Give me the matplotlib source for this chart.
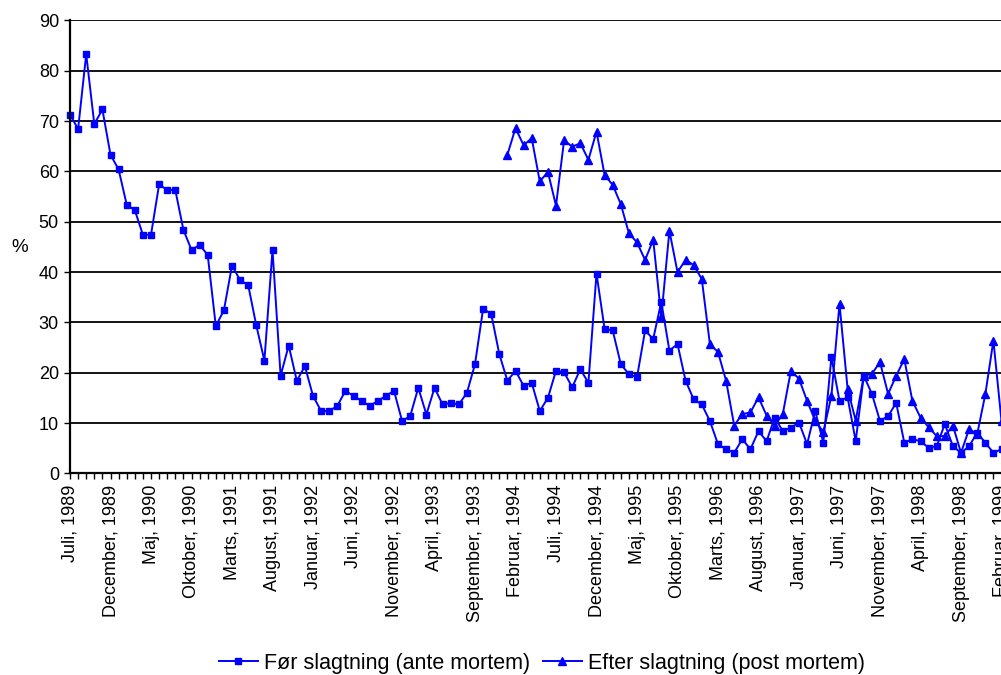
import matplotlib
matplotlib.use("Agg")
import matplotlib.pyplot as plt
import numpy as np

plt.rcParams['font.family'] = ['Liberation Sans', 'DejaVu Sans']

# maanedlige vaerdier, juli 1989 -> februar 1999
ante = [71.3, 68.4, 83.3, 69.4, 72.3, 63.3, 60.4, 53.4, 52.3, 47.4,
        47.4, 57.4, 56.3, 56.3, 48.4, 44.4, 45.4, 43.4, 29.3, 32.4,
        41.3, 38.4, 37.4, 29.4, 22.4, 44.4, 19.4, 25.4, 18.4, 21.3,
        15.4, 12.4, 12.4, 13.4, 16.4, 15.4, 14.4, 13.4, 14.4, 15.4,
        16.4, 10.4, 11.4, 17.0, 11.7, 17.0, 13.7, 14.0, 13.7, 16.0,
        21.7, 32.7, 31.7, 23.7, 18.4, 20.4, 17.4, 18.0, 12.4, 15.0,
        20.4, 20.1, 17.1, 20.7, 18.0, 39.7, 28.7, 28.4, 21.7, 19.7,
        19.1, 28.4, 26.7, 34.1, 24.4, 25.7, 18.4, 14.7, 13.7, 10.4,
        5.8, 4.8, 4.1, 6.8, 4.8, 8.4, 6.4, 11.1, 8.4, 9.1,
        10.1, 5.8, 12.4, 6.1, 23.1, 14.4, 15.1, 6.4, 19.4, 15.8,
        10.4, 11.4, 14.0, 6.1, 6.8, 6.4, 5.1, 5.4, 9.8, 5.4,
        4.1, 5.4, 8.1, 6.1, 4.1, 4.8]

# post mortem starter i januar 1994 (indeks 54)
post_start = 54
post = [63.3, 68.6, 65.2, 66.6, 58.0, 59.9, 53.2, 66.2, 64.9, 65.6,
        62.3, 67.9, 59.3, 57.3, 53.5, 47.7, 45.9, 42.4, 46.4, 31.1,
        48.2, 40.0, 42.4, 41.4, 38.6, 25.7, 24.1, 18.4, 9.5, 11.8,
        12.1, 15.1, 11.5, 9.5, 11.8, 20.4, 18.8, 14.4, 10.5, 8.2,
        15.4, 33.7, 16.8, 10.5, 19.4, 19.8, 22.1, 15.8, 19.4, 22.7,
        14.4, 11.1, 9.2, 7.4, 7.4, 9.5, 4.1, 8.8, 7.8, 15.7,
        26.4, 10.4]

tick_labels = ["Juli, 1989", "December, 1989", "Maj, 1990", "Oktober, 1990",
               "Marts, 1991", "August, 1991", "Januar, 1992", "Juni, 1992",
               "November, 1992", "April, 1993", "September, 1993", "Februar, 1994",
               "Juli, 1994", "December, 1994", "Maj, 1995", "Oktober, 1995",
               "Marts, 1996", "August, 1996", "Januar, 1997", "Juni, 1997",
               "November, 1997", "April, 1998", "September, 1998", "Februar, 1999"]

x_ante = np.arange(len(ante))
x_post = np.arange(post_start, post_start + len(post))

fig = plt.figure(figsize=(10.01, 6.75), dpi=100)
W, H = 1001, 675
px_month = 8.1
nmax = 120
# aksen fortsaetter ud over hoejre kant, som i originalen
ax = fig.add_axes([70 / W, (H - 473.4) / H, nmax * px_month / W, 453 / H])

blue = '#0000FF'
ax.plot(x_ante, ante, color=blue, lw=1.4, marker='s', ms=4.8,
        label='Før slagtning (ante mortem)', clip_on=False)
ax.plot(x_post, post, color=blue, lw=1.4, marker='^', ms=6,
        label='Efter slagtning (post mortem)', clip_on=False)

ax.set_xlim(0, nmax)
ax.set_ylim(0, 90)
ax.set_yticks(np.arange(0, 91, 10))
ax.yaxis.grid(True, color='black', lw=1.3)
ax.set_axisbelow(True)

ticks = np.arange(0, nmax)
labels = [''] * len(ticks)
for i, t in enumerate(tick_labels):
    labels[i * 5] = t
ax.set_xticks(ticks)
ax.set_xticklabels(labels, rotation=90, fontsize=13)
ax.tick_params(axis='x', length=4, width=1, pad=4)
ax.tick_params(axis='y', length=4, width=1, pad=4, labelsize=13)

for s in ['top', 'right']:
    ax.spines[s].set_visible(False)
ax.spines['left'].set_linewidth(1.6)
ax.spines['bottom'].set_linewidth(1.6)

fig.text(20 / W, 1 - 247 / H, '%', fontsize=13.5, ha='center', va='center')

fig.legend(loc='center', bbox_to_anchor=(542 / W, 1 - 663 / H), ncol=2,
           frameon=False, fontsize=15.5, handlelength=1.8, handletextpad=0.3,
           columnspacing=0.6)

fig.savefig('out.png', dpi=100)
